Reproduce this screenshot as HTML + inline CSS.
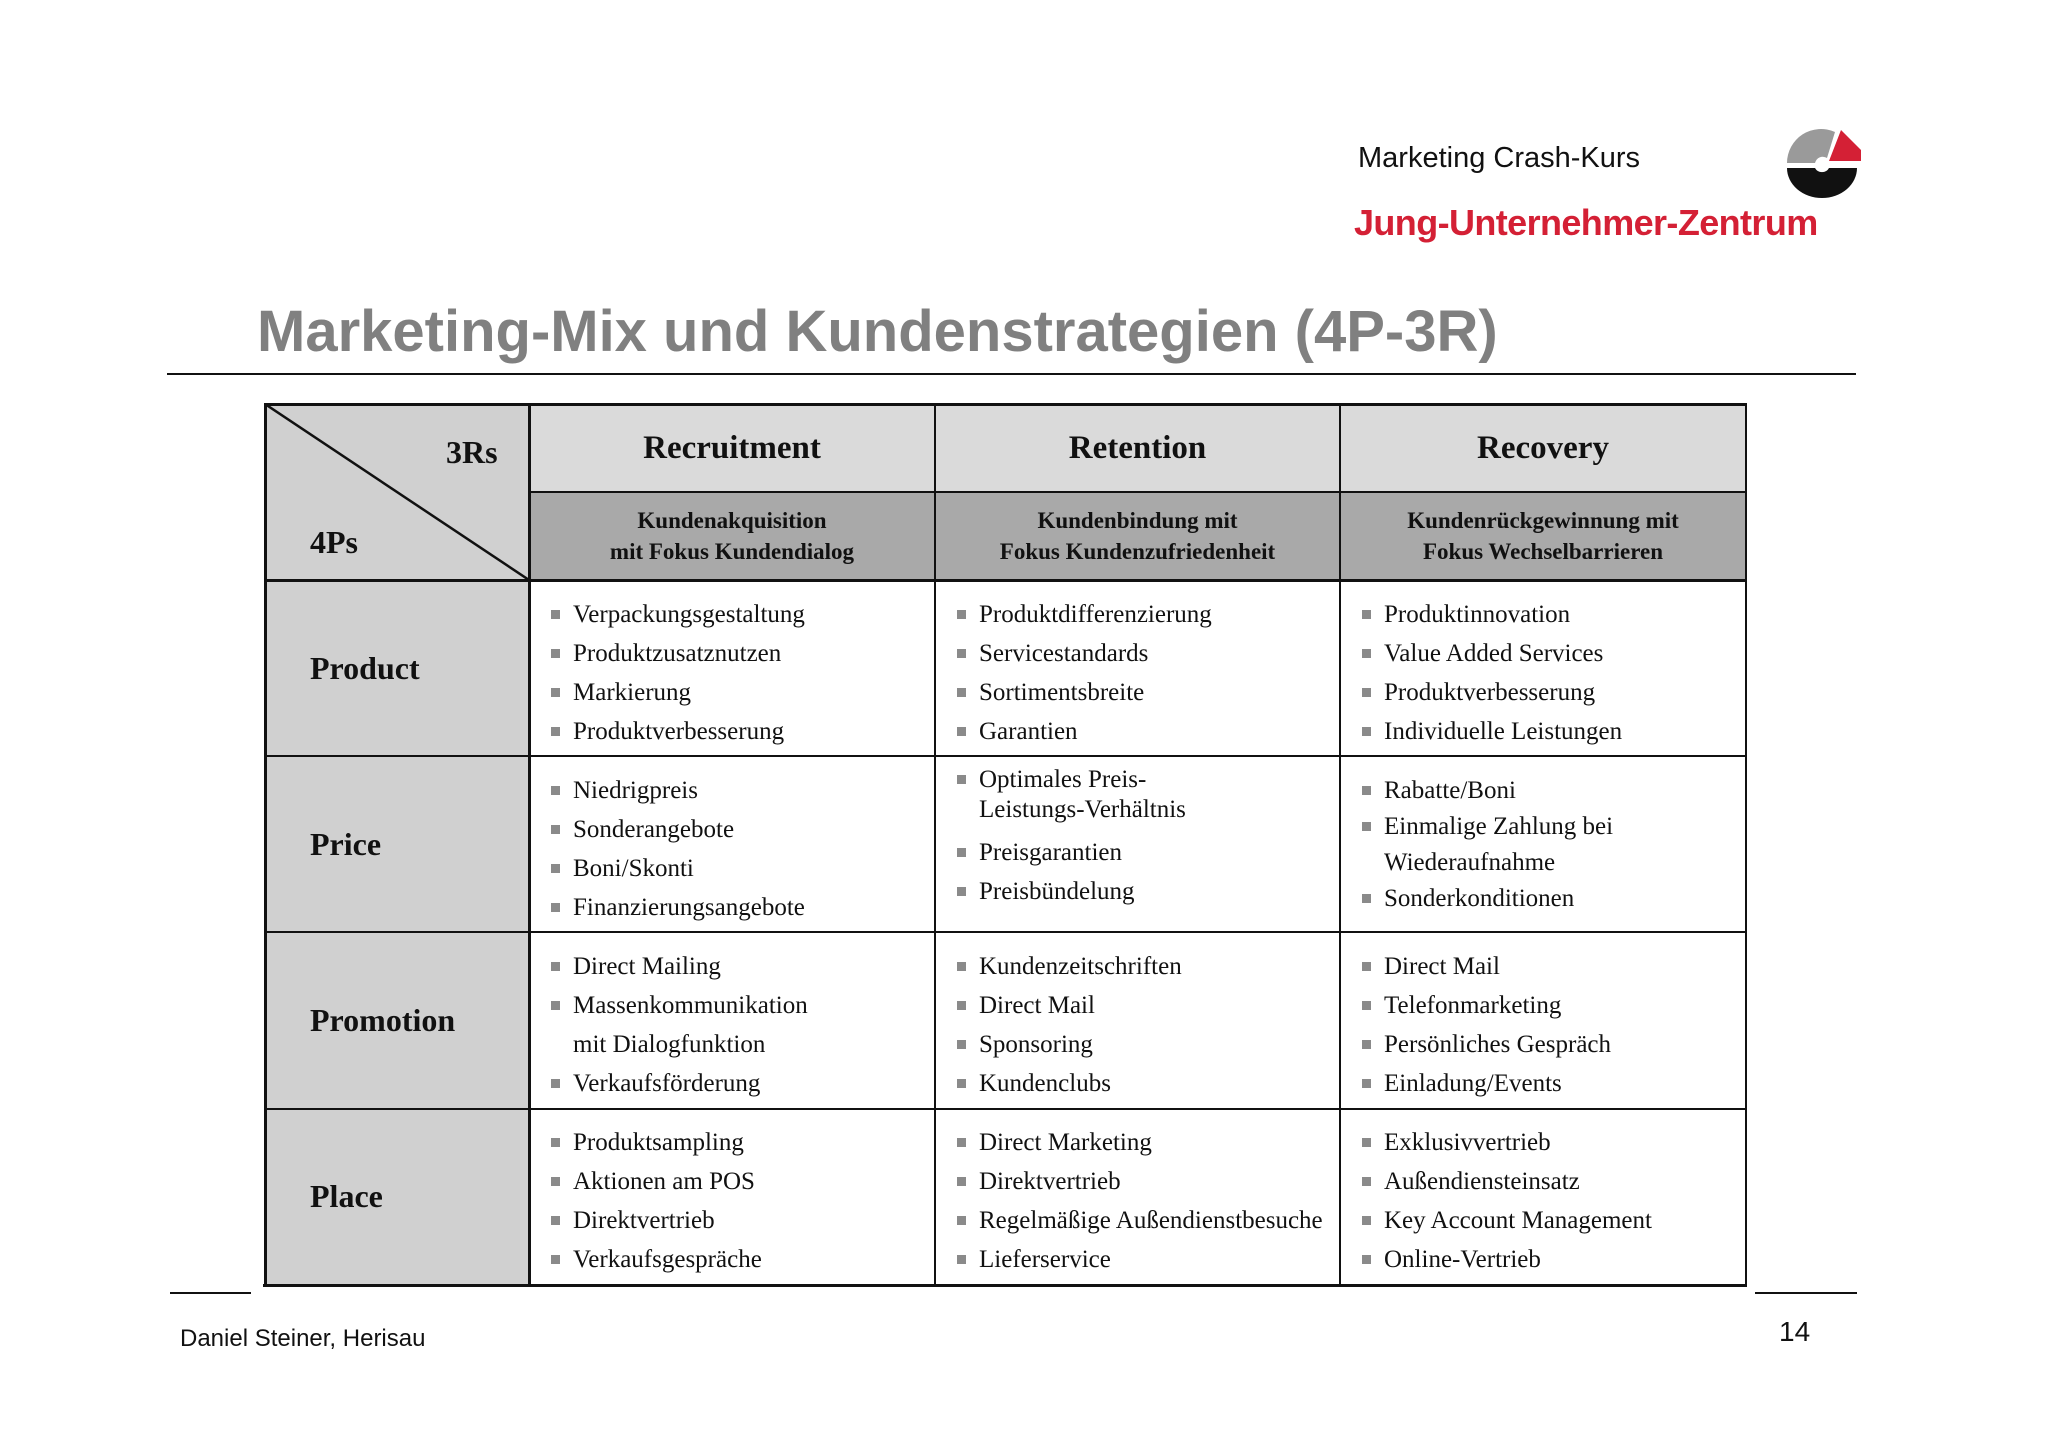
<!DOCTYPE html>
<html><head><meta charset="utf-8">
<style>
body{margin:0;width:2048px;height:1447px;background:#fff;position:relative;overflow:hidden;font-family:"Liberation Sans",sans-serif}
.a{position:absolute}
.cell{position:absolute;font-family:"Liberation Serif",serif;font-size:25px;color:#111}
.ln{height:39px;line-height:39px;white-space:nowrap;position:relative;padding-left:44px}
.ln .b{position:absolute;left:22px;top:15px;width:9px;height:9px;background:#8a8a8a}
.hl{position:absolute;background:#111}
.hd{font-family:"Liberation Serif",serif;font-weight:bold;color:#111;position:absolute;text-align:center}
.rl{font-family:"Liberation Serif",serif;font-weight:bold;font-size:32px;color:#111;position:absolute;left:310px}
</style></head><body>
<div class="a" style="left:1358px;top:142px;font-size:29px;color:#111">Marketing Crash-Kurs</div>
<div class="a" style="left:1354px;top:202px;font-size:36px;font-weight:bold;color:#d42035;letter-spacing:-0.6px">Jung-Unternehmer-Zentrum</div>
<svg class="a" style="left:1785px;top:128px" width="78" height="70" viewBox="0 0 78 70">
<path d="M2 35 A34 34 0 0 1 50 4 L42 30 A8 8 0 0 0 30 35 Z" fill="#9a9a9a"/>
<path d="M56 2 L76 22 L76 33 L44 33 Z" fill="#d42035"/>
<path d="M2 40 L30 40 A8 8 0 0 0 44 40 L72 40 A35 30 0 0 1 2 40 Z" fill="#111"/>
</svg>
<div class="a" style="left:257px;top:298px;font-size:58px;font-weight:bold;color:#808080">Marketing-Mix und Kundenstrategien (4P-3R)</div>
<div class="hl" style="left:167px;top:373px;width:1689px;height:2px"></div>

<div class="a" style="left:265px;top:404px;width:264px;height:176px;background:#d0d0d0"></div>
<div class="a" style="left:529px;top:404px;width:1217px;height:88px;background:#dadada"></div>
<div class="a" style="left:529px;top:492px;width:1217px;height:88px;background:#a9a9a9"></div>
<div class="a" style="left:265px;top:580px;width:264px;height:705px;background:#d0d0d0"></div>
<div class="hl" style="left:265px;top:403px;width:1482px;height:3px"></div>
<div class="hl" style="left:529px;top:491px;width:1217px;height:2px"></div>
<div class="hl" style="left:265px;top:579px;width:1482px;height:3px"></div>
<div class="hl" style="left:265px;top:755px;width:1482px;height:2px"></div>
<div class="hl" style="left:265px;top:931px;width:1482px;height:2px"></div>
<div class="hl" style="left:265px;top:1108px;width:1482px;height:2px"></div>
<div class="hl" style="left:263px;top:1284px;width:1484px;height:3px"></div>
<div class="hl" style="left:264px;top:403px;width:3px;height:884px"></div>
<div class="hl" style="left:528px;top:403px;width:3px;height:884px"></div>
<div class="hl" style="left:934px;top:403px;width:2px;height:884px"></div>
<div class="hl" style="left:1339px;top:403px;width:2px;height:884px"></div>
<div class="hl" style="left:1745px;top:403px;width:2px;height:884px"></div>
<svg class="a" style="left:265px;top:404px" width="264" height="176"><line x1="0" y1="0" x2="264" y2="176" stroke="#111" stroke-width="2.5"/></svg>

<div class="hd" style="left:446px;top:434px;font-size:32px">3Rs</div>
<div class="hd" style="left:310px;top:524px;font-size:32px">4Ps</div>

<div class="hd" style="left:529px;width:406px;top:430px;font-size:33px">Recruitment</div>
<div class="hd" style="left:935px;width:405px;top:430px;font-size:33px">Retention</div>
<div class="hd" style="left:1340px;width:406px;top:430px;font-size:33px">Recovery</div>
<div class="hd" style="left:529px;width:406px;top:505px;font-size:23px;line-height:31px">Kundenakquisition<br>mit Fokus Kundendialog</div>
<div class="hd" style="left:935px;width:405px;top:505px;font-size:23px;line-height:31px">Kundenbindung mit<br>Fokus Kundenzufriedenheit</div>
<div class="hd" style="left:1340px;width:406px;top:505px;font-size:23px;line-height:31px">Kundenrückgewinnung mit<br>Fokus Wechselbarrieren</div>

<div class="rl" style="top:650px">Product</div>
<div class="rl" style="top:826px">Price</div>
<div class="rl" style="top:1002px">Promotion</div>
<div class="rl" style="top:1178px">Place</div>

<div class="cell" style="left:529px;top:595px">
<div class="ln"><span class="b"></span>Verpackungsgestaltung</div><div class="ln"><span class="b"></span>Produktzusatznutzen</div><div class="ln"><span class="b"></span>Markierung</div><div class="ln"><span class="b"></span>Produktverbesserung</div></div>
<div class="cell" style="left:935px;top:595px">
<div class="ln"><span class="b"></span>Produktdifferenzierung</div><div class="ln"><span class="b"></span>Servicestandards</div><div class="ln"><span class="b"></span>Sortimentsbreite</div><div class="ln"><span class="b"></span>Garantien</div></div>
<div class="cell" style="left:1340px;top:595px">
<div class="ln"><span class="b"></span>Produktinnovation</div><div class="ln"><span class="b"></span>Value Added Services</div><div class="ln"><span class="b"></span>Produktverbesserung</div><div class="ln"><span class="b"></span>Individuelle Leistungen</div></div>
<div class="cell" style="left:529px;top:771px">
<div class="ln"><span class="b"></span>Niedrigpreis</div><div class="ln"><span class="b"></span>Sonderangebote</div><div class="ln"><span class="b"></span>Boni/Skonti</div><div class="ln"><span class="b"></span>Finanzierungsangebote</div></div>
<div class="cell" style="left:935px;top:765px">
<div class="ln" style="height:30px;line-height:30px"><span class="b" style="top:10px"></span>Optimales Preis-</div><div class="ln" style="height:30px;line-height:30px">Leistungs-Verhältnis</div><div class="ln" style="margin-top:8px"><span class="b"></span>Preisgarantien</div><div class="ln"><span class="b"></span>Preisbündelung</div></div>
<div class="cell" style="left:1340px;top:773px">
<div class="ln" style="height:36px;line-height:36px"><span class="b" style="top:13px"></span>Rabatte/Boni</div><div class="ln" style="height:36px;line-height:36px"><span class="b" style="top:13px"></span>Einmalige Zahlung bei</div><div class="ln" style="height:36px;line-height:36px">Wiederaufnahme</div><div class="ln" style="height:36px;line-height:36px"><span class="b" style="top:13px"></span>Sonderkonditionen</div></div>
<div class="cell" style="left:529px;top:947px">
<div class="ln"><span class="b"></span>Direct Mailing</div><div class="ln"><span class="b"></span>Massenkommunikation</div><div class="ln">mit Dialogfunktion</div><div class="ln"><span class="b"></span>Verkaufsförderung</div></div>
<div class="cell" style="left:935px;top:947px">
<div class="ln"><span class="b"></span>Kundenzeitschriften</div><div class="ln"><span class="b"></span>Direct Mail</div><div class="ln"><span class="b"></span>Sponsoring</div><div class="ln"><span class="b"></span>Kundenclubs</div></div>
<div class="cell" style="left:1340px;top:947px">
<div class="ln"><span class="b"></span>Direct Mail</div><div class="ln"><span class="b"></span>Telefonmarketing</div><div class="ln"><span class="b"></span>Persönliches Gespräch</div><div class="ln"><span class="b"></span>Einladung/Events</div></div>
<div class="cell" style="left:529px;top:1123px">
<div class="ln"><span class="b"></span>Produktsampling</div><div class="ln"><span class="b"></span>Aktionen am POS</div><div class="ln"><span class="b"></span>Direktvertrieb</div><div class="ln"><span class="b"></span>Verkaufsgespräche</div></div>
<div class="cell" style="left:935px;top:1123px">
<div class="ln"><span class="b"></span>Direct Marketing</div><div class="ln"><span class="b"></span>Direktvertrieb</div><div class="ln"><span class="b"></span>Regelmäßige Außendienstbesuche</div><div class="ln"><span class="b"></span>Lieferservice</div></div>
<div class="cell" style="left:1340px;top:1123px">
<div class="ln"><span class="b"></span>Exklusivvertrieb</div><div class="ln"><span class="b"></span>Außendiensteinsatz</div><div class="ln"><span class="b"></span>Key Account Management</div><div class="ln"><span class="b"></span>Online-Vertrieb</div></div>

<div class="hl" style="left:170px;top:1292px;width:81px;height:2px"></div>
<div class="hl" style="left:1755px;top:1292px;width:102px;height:2px"></div>
<div class="a" style="left:180px;top:1325px;font-size:24px;color:#111">Daniel Steiner, Herisau</div>
<div class="a" style="left:1779px;top:1316px;font-size:28px;color:#111">14</div>
</body></html>
